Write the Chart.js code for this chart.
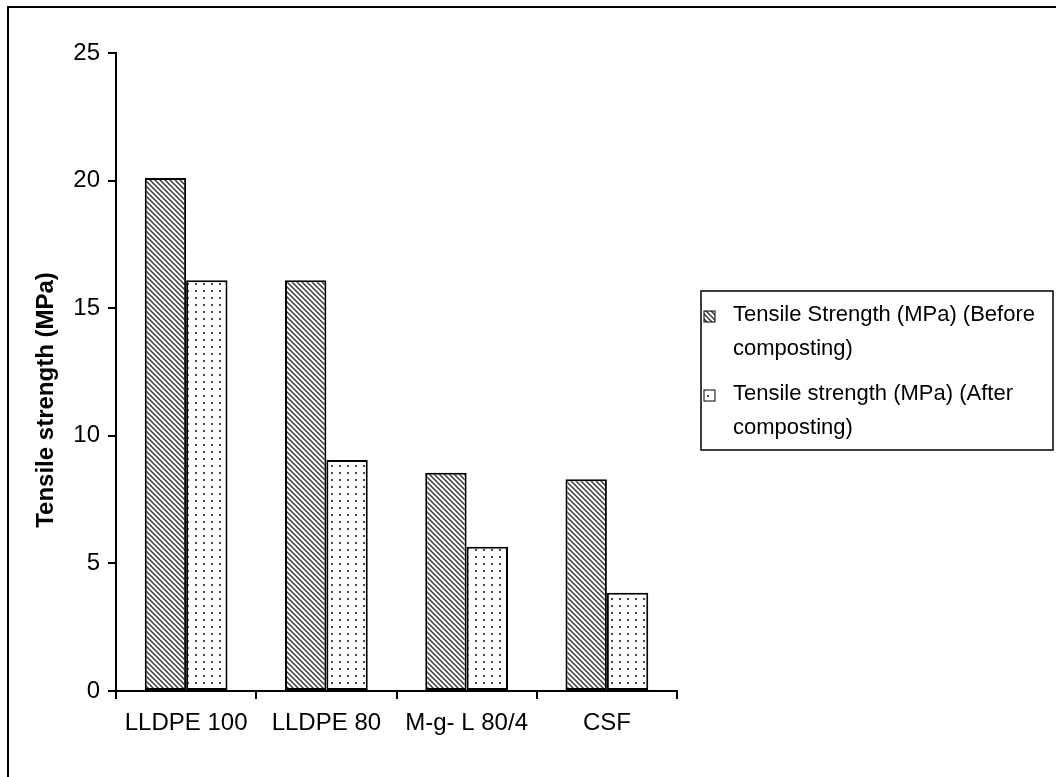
<!DOCTYPE html>
<html>
<head>
<meta charset="utf-8">
<script src="https://cdn.jsdelivr.net/npm/chart.js@4/dist/chart.umd.min.js"></script>
<style>
  html, body { margin: 0; padding: 0; background: #fff; overflow: hidden; }
  #wrap { position: relative; width: 1056px; height: 777px; }
  #frame { position: absolute; left: 7px; top: 6px; width: 1100px; height: 900px; border: 2px solid #000; }
  canvas { position: absolute; left: 0; top: 0; }
</style>
</head>
<body>
<div id="wrap">
  <div id="frame"></div>
  <canvas id="tensileChart" width="1056" height="777"></canvas>
</div>
<script>
const categories = ['LLDPE 100', 'LLDPE 80', 'M-g- L 80/4', 'CSF'];
const beforeValues = [20.1, 16.1, 8.55, 8.3];
const afterValues = [16.1, 9.05, 5.65, 3.85];
const beforeLegend = ['Tensile Strength (MPa) (Before', 'composting)'];
const afterLegend = ['Tensile strength (MPa) (After', 'composting)'];
const yTitle = 'Tensile strength (MPa)';
const yMin = 0, yMax = 25, yStep = 5;

const FONT = '"Liberation Sans", Arial, sans-serif';

// hatch "\" pattern for the before series
function makeHatch() {
  const c = document.createElement('canvas');
  c.width = 5; c.height = 5;
  const g = c.getContext('2d');
  g.fillStyle = '#fff';
  g.fillRect(0, 0, 5, 5);
  g.strokeStyle = '#3a3a3a';
  g.lineWidth = 1.5;
  g.beginPath();
  g.moveTo(-1, -1); g.lineTo(6, 6);
  g.moveTo(-1, 4); g.lineTo(1, 6);
  g.moveTo(4, -1); g.lineTo(6, 1);
  g.stroke();
  return g.createPattern(c, 'repeat');
}

// sparse dots for the after series
function makeDots() {
  const c = document.createElement('canvas');
  c.width = 8; c.height = 7;
  const g = c.getContext('2d');
  g.fillStyle = '#fff';
  g.fillRect(0, 0, 8, 7);
  g.fillStyle = '#444';
  g.fillRect(3, 3, 2, 2);
  return g.createPattern(c, 'repeat');
}

const ctx = document.getElementById('tensileChart').getContext('2d');
const hatch = makeHatch();
const dots = makeDots();

const yTitlePlugin = {
  id: 'yTitle',
  afterDraw(chart) {
    const c = chart.ctx;
    c.save();
    c.translate(46, 400);
    c.rotate(-Math.PI / 2);
    c.font = 'bold 24px ' + FONT;
    c.fillStyle = '#000';
    c.textAlign = 'center';
    c.textBaseline = 'middle';
    c.fillText(yTitle, 0, 0);
    c.restore();
  }
};

const boxLegend = {
  id: 'boxLegend',
  afterDraw(chart) {
    const c = chart.ctx;
    const x = 701, y = 291, w = 352, h = 159;
    c.save();
    c.strokeStyle = '#000';
    c.lineWidth = 1.5;
    c.strokeRect(x, y, w, h);
    c.font = '22px ' + FONT;
    c.textBaseline = 'middle';
    chart.data.datasets.forEach((ds, i) => {
      const top = 315 + i * 79;
      c.fillStyle = ds.backgroundColor;
      c.fillRect(704, top - 4, 11, 11);
      c.strokeStyle = '#000';
      c.lineWidth = 1;
      c.strokeRect(704, top - 4, 11, 11);
      c.fillStyle = '#000';
      ds.legendLines.forEach((line, j) => {
        c.fillText(line, 733, top + j * 34);
      });
    });
    c.restore();
  }
};

new Chart(ctx, {
  type: 'bar',
  data: {
    labels: categories,
    datasets: [
      {
        label: beforeLegend.join(' '),
        legendLines: beforeLegend,
        data: beforeValues,
        backgroundColor: hatch,
        borderColor: '#000',
        borderWidth: 2,
        borderSkipped: false
      },
      {
        label: afterLegend.join(' '),
        legendLines: afterLegend,
        data: afterValues,
        backgroundColor: dots,
        borderColor: '#000',
        borderWidth: 2,
        borderSkipped: false
      }
    ]
  },
  options: {
    responsive: false,
    animation: false,
    layout: {
      padding: { left: 0, top: 53, right: 379, bottom: 0 }
    },
    plugins: {
      legend: { display: false },
      tooltip: { enabled: false }
    },
    datasets: {
      bar: { categoryPercentage: 0.59, barPercentage: 1 }
    },
    scales: {
      x: {
        offset: true,
        afterFit: s => { s.height = 86; },
        grid: {
          offset: true,
          drawOnChartArea: false,
          drawTicks: true,
          tickLength: 8,
          color: '#000',
          lineWidth: 2
        },
        border: { display: true, color: '#000', width: 2 },
        ticks: {
          color: '#000',
          padding: 10,
          autoSkip: false,
          maxRotation: 0,
          font: { family: FONT, size: 24 }
        }
      },
      y: {
        min: yMin,
        max: yMax,
        afterFit: s => { s.width = 116; },
        grid: {
          drawOnChartArea: false,
          drawTicks: true,
          tickLength: 8,
          color: '#000',
          lineWidth: 2
        },
        border: { display: true, color: '#000', width: 2 },
        ticks: {
          stepSize: yStep,
          color: '#000',
          padding: 8,
          font: { family: FONT, size: 24 }
        }
      }
    }
  },
  plugins: [yTitlePlugin, boxLegend]
});
</script>
</body>
</html>
